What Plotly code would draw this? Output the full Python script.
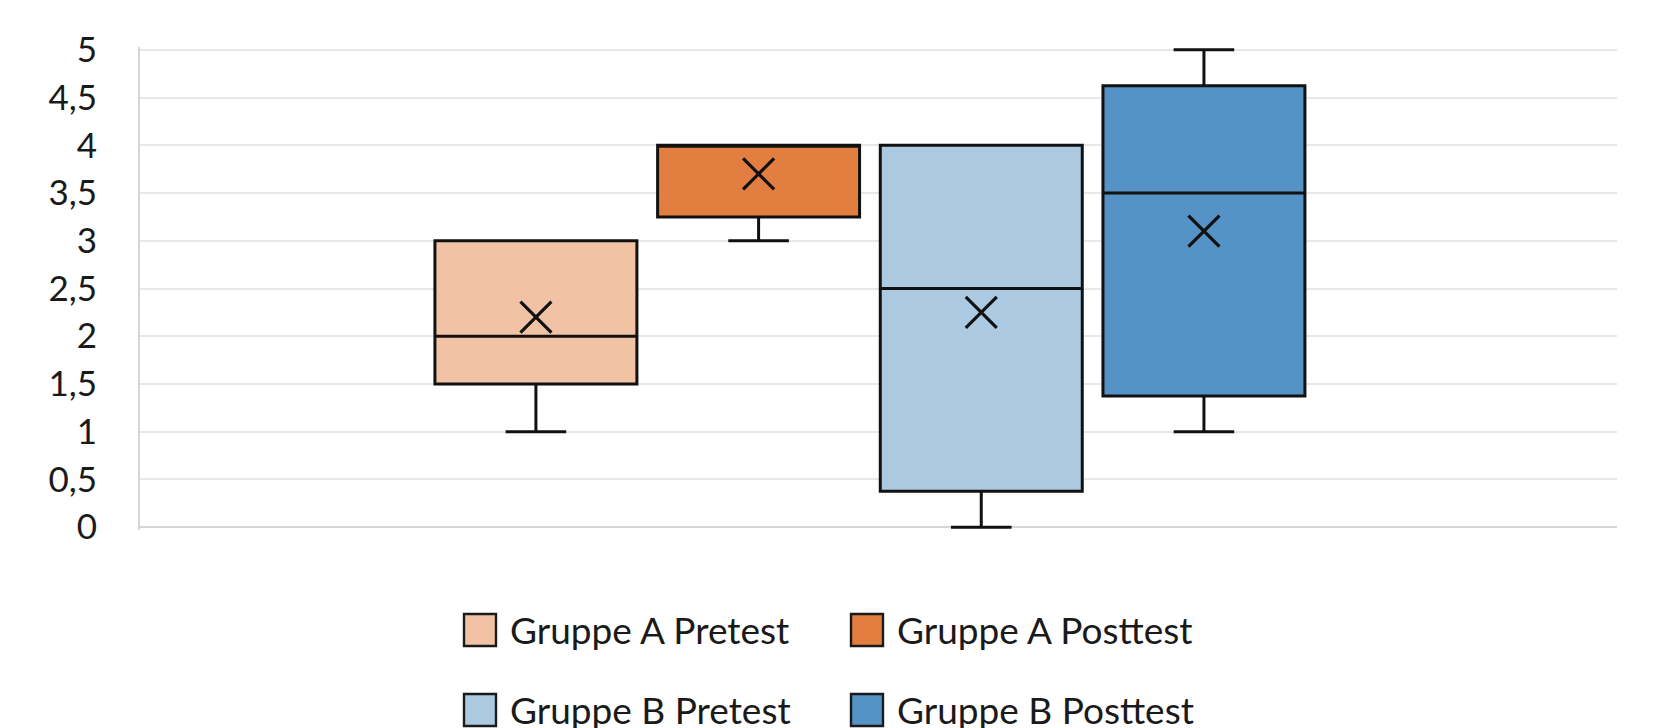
import plotly.graph_objects as go

# ---- data ----
series = ["Gruppe A Pretest", "Gruppe A Posttest", "Gruppe B Pretest", "Gruppe B Posttest"]
minimum = [1.0, 3.0, 0.0, 1.0]
q1 = [1.5, 3.25, 0.375, 1.375]
median = [2.0, 4.0, 2.5, 3.5]
q3 = [3.0, 4.0, 4.0, 4.625]
maximum = [3.0, 4.0, 4.0, 5.0]
mean = [2.2, 3.7, 2.25, 3.1]
colors = ["#F1C3A4", "#E27E3F", "#ABCAE1", "#5592C6"]
y_ticks = [0, 0.5, 1, 1.5, 2, 2.5, 3, 3.5, 4, 4.5, 5]

# page body has an 8px margin, so the figure is drawn 8px in from the corner
W, H = 1658, 720
ML, MR, MT, MB = 132, 49, 39, 198
FONT = "Lato, Open Sans, sans-serif"

fig = go.Figure()
for i, name in enumerate(series):
    fig.add_trace(go.Box(
        x=[name], q1=[q1[i]], median=[median[i]], q3=[q3[i]],
        lowerfence=[minimum[i]], upperfence=[maximum[i]],
        name=name, fillcolor=colors[i],
        line=dict(color="#111111", width=3),
        whiskerwidth=0.3, width=0.907, showlegend=False,
        hoverinfo="skip",
    ))
fig.add_trace(go.Scatter(
    x=series, y=mean, mode="markers", showlegend=False,
    marker=dict(symbol="x-thin", size=31, color="#111111",
                line=dict(color="#111111", width=3.2)),
    cliponaxis=False, hoverinfo="skip",
))

# manual legend (big square swatches like the original)
plot_w = W - ML - MR
plot_h = H - MT - MB
def px_x(p):
    return (p - ML) / plot_w
def px_y(p):
    return (H - MB - p) / plot_h

leg_cols = [456, 843]
leg_rows = [621, 701]
sw = 32
for i, name in enumerate(series):
    cx = leg_cols[i % 2]
    cy = leg_rows[i // 2]
    fig.add_shape(type="rect", xref="paper", yref="paper",
                  x0=px_x(cx), x1=px_x(cx + sw),
                  y0=px_y(cy + sw / 2 + 1), y1=px_y(cy - sw / 2 + 1),
                  fillcolor=colors[i], line=dict(color="#1a1a1a", width=2.4))
    fig.add_annotation(xref="paper", yref="paper", x=px_x(cx + sw + 12), y=px_y(cy),
                       text=name, showarrow=False, xanchor="left", yanchor="middle",
                       font=dict(family=FONT, size=37, color="#1a1a1a"))

fig.update_layout(
    width=W, height=H,
    margin=dict(l=ML, r=MR, t=MT, b=MB),
    paper_bgcolor="white", plot_bgcolor="white",
    separators=",.",
    showlegend=False,
    font=dict(family=FONT, size=34, color="#1a1a1a"),
)
fig.update_xaxes(
    type="category", categoryorder="array", categoryarray=series,
    range=[-1.778, 4.855], showticklabels=False, ticks="",
    showgrid=False, showline=False, zeroline=False, fixedrange=True,
)
fig.update_yaxes(
    range=[-0.03, 5.03], tickvals=y_ticks, ticks="",
    showgrid=True, gridcolor="#E8E8E8", gridwidth=2,
    zeroline=True, zerolinecolor="#D6D6D6", zerolinewidth=2,
    showline=True, linecolor="#D6D6D6", linewidth=2,
    ticklabelstandoff=34,
    tickfont=dict(family=FONT, size=35, color="#1a1a1a"),
)

fig.write_html("out.html")
